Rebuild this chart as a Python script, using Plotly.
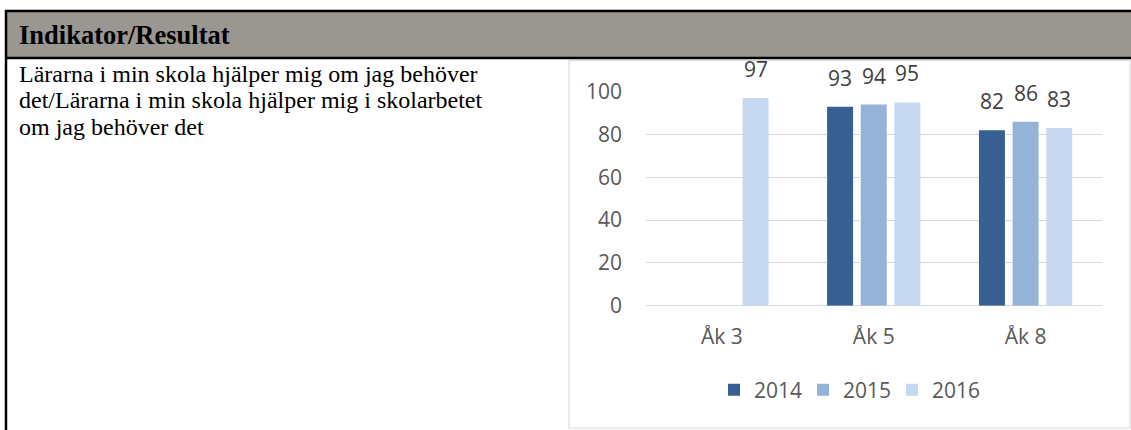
import plotly.graph_objects as go

W, H = 1131, 430

categories = ["Åk 3", "Åk 5", "Åk 8"]
years = ["2014", "2015", "2016"]
values_2014 = [None, 93, 82]
values_2015 = [None, 94, 86]
values_2016 = [97, 95, 83]
series = [values_2014, values_2015, values_2016]
colors = ["#375F91", "#95B3D7", "#C6D9F1"]

header_text = "Indikator/Resultat"
body_lines = [
    "Lärarna i min skola hjälper mig om jag behöver",
    "det/Lärarna i min skola hjälper mig i skolarbetet",
    "om jag behöver det",
]


def px(x):
    return x / W


def py(y):
    return 1 - y / H


fig = go.Figure()

for name, vals, col in zip(years, series, colors):
    fig.add_trace(go.Bar(
        x=categories, y=vals, name=name,
        marker=dict(color=col, line=dict(width=0)),
        cliponaxis=False,
    ))

# data labels above each bar
slot = 33.7
annotations = []
for i, vals in enumerate(series):
    for cat, v in zip(categories, vals):
        if v is None:
            continue
        annotations.append(dict(
            x=cat, y=v, xref="x", yref="y", text=str(v), showarrow=False,
            xshift=(i - 1) * slot, yanchor="bottom", yshift=13,
            font=dict(family="Open Sans", size=21, color="#404040"),
        ))

# table text
annotations.append(dict(
    x=px(17), y=py(35), xref="paper", yref="paper", xanchor="left", yanchor="middle",
    text="<b>" + header_text + "</b>", showarrow=False,
    font=dict(family="Liberation Serif", size=26.5, color="#000000"),
))
for k, line in enumerate(body_lines):
    annotations.append(dict(
        x=px(17), y=py(73.5 + k * 26.5), xref="paper", yref="paper",
        xanchor="left", yanchor="middle", text=line, showarrow=False,
        font=dict(family="Liberation Serif", size=24, color="#000000"),
    ))

shapes = [
    # header band
    dict(type="rect", xref="paper", yref="paper", x0=px(6), x1=px(W), y0=py(58), y1=py(11),
         fillcolor="#9A9692", line=dict(width=0), layer="below"),
    dict(type="line", xref="paper", yref="paper", x0=px(5), x1=px(W), y0=py(11), y1=py(11),
         line=dict(color="#000000", width=2.5)),
    dict(type="line", xref="paper", yref="paper", x0=px(5), x1=px(W), y0=py(58), y1=py(58),
         line=dict(color="#000000", width=2.5)),
    dict(type="line", xref="paper", yref="paper", x0=px(6), x1=px(6), y0=py(10), y1=py(H),
         line=dict(color="#000000", width=2.5)),
    # chart frame
    dict(type="rect", xref="paper", yref="paper", x0=px(569), x1=px(1130), y0=py(428), y1=py(60.5),
         line=dict(color="#D9D9D9", width=1.2), layer="below"),
]

fig.update_layout(
    width=W, height=H,
    margin=dict(l=0, r=0, t=0, b=0, autoexpand=False),
    paper_bgcolor="#FFFFFF", plot_bgcolor="#FFFFFF",
    barmode="group", bargap=0.335, bargroupgap=0.228,
    font=dict(family="Open Sans", size=21, color="#595959"),
    showlegend=True,
    legend=dict(orientation="h", x=px(714), xanchor="left", y=py(390), yanchor="middle",
                entrywidth=44, entrywidthmode="pixels",
                font=dict(family="Open Sans", size=21, color="#595959"),
                itemclick=False, traceorder="normal"),
    annotations=annotations,
    shapes=shapes,
    xaxis=dict(domain=[px(646), px(1101.5)], showgrid=False, showline=False, zeroline=False,
               ticks="", ticklabelstandoff=16, automargin=False,
               tickfont=dict(family="Open Sans", size=21, color="#595959")),
    yaxis=dict(domain=[py(305.7), py(91.7)], range=[0, 100], dtick=20, showgrid=True,
               gridcolor="#D9D9D9", gridwidth=1.2, zeroline=True, zerolinecolor="#D9D9D9",
               zerolinewidth=1.2, showline=False, ticks="", ticklabelstandoff=23,
               automargin=False,
               tickfont=dict(family="Open Sans", size=21, color="#595959")),
)

fig.write_html("out.html", config={"displayModeBar": False},
               post_script="document.body.style.margin='0';")
